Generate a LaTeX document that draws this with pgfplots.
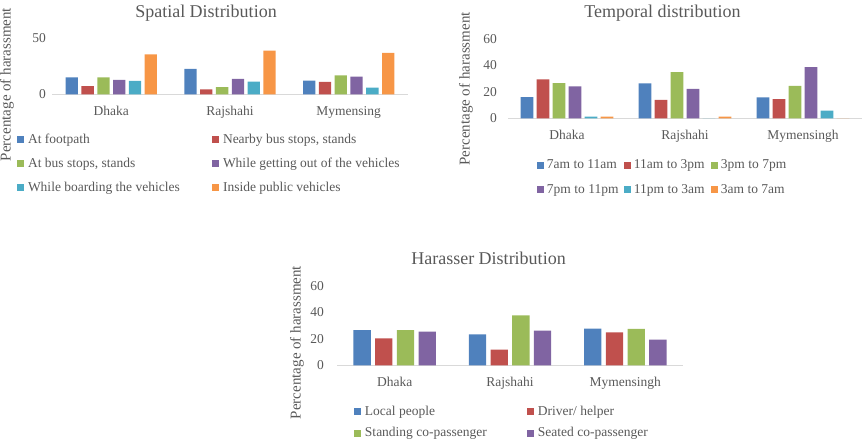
\documentclass[border=0pt]{standalone}
\usepackage{pgfplots}
\pgfplotsset{compat=1.18}
\usepackage{fontspec}
\setmainfont{Liberation Serif}
\definecolor{cblue}{HTML}{4F81BD}
\definecolor{cred}{HTML}{C0504D}
\definecolor{cgreen}{HTML}{9BBB59}
\definecolor{cpurple}{HTML}{8064A2}
\definecolor{ccyan}{HTML}{4BACC6}
\definecolor{corange}{HTML}{F79646}
\definecolor{tgrey}{HTML}{595959}
\definecolor{lgrey}{HTML}{D9D9D9}
\pgfplotsset{
  /pgfplots/ybar legend/.style={/pgfplots/legend image code/.code={\fill[##1,draw=none] (0pt,-3.5pt) rectangle (7pt,3.5pt);}},
  myax/.style={scale only axis, ymin=0, xmin=-0.5, xmax=2.5, xtick={0,1,2},
    enlarge x limits=false, enlarge y limits=false,
    axis x line*=bottom, axis y line*=left,
    x axis line style={draw=lgrey, line width=0.8pt},
    y axis line style={draw=none},
    major tick length=0pt, tick style={draw=none},
    /pgf/number format/assume math mode=true,
    ticklabel style={font=\fontsize{13.5}{16}\selectfont, text=tgrey},
    xticklabel style={anchor=base, yshift=-21pt},
    ylabel={Percentage of harassment},
    ylabel style={font=\fontsize{15}{18}\selectfont, text=tgrey, anchor=center},
    title style={font=\fontsize{18}{21}\selectfont, text=tgrey, anchor=base, yshift=-6pt},
    legend cell align=left, clip=false}
}
\begin{document}
\begin{tikzpicture}
\useasboundingbox (0pt,0pt) rectangle (865pt,-443pt);
% Spatial
\begin{axis}[myax, at={(52pt,-94.3pt)}, anchor=south west,
  width=356pt, height=56pt, ymax=50, ytick={0,50},
  ybar=3.5pt, bar width=12.3pt,
  xticklabels={Dhaka,Rajshahi,Mymensing},
  yticklabel style={anchor=east, inner sep=0pt, xshift=-6pt},
  title={Spatial Distribution},
  title style={at={(axis description cs:0.4326,1.3625)}},
  ylabel style={at={(axis description cs:-0.1264,0.175)}},
  legend columns=2,
  legend style={at={(-0.0983,-0.70)}, anchor=north west, draw=none, fill=none,
    inner sep=0pt, outer sep=0pt, row sep=11pt,
    nodes={inner sep=0pt, text height=10pt, text depth=3pt, font=\fontsize{13.5}{16}\selectfont, text=tgrey},
    /tikz/every odd column/.style={column sep=4pt},
    /tikz/every even column/.style={column sep=0pt}}]
\addplot[fill=cblue, draw=none] coordinates {(0,15.2) (1,22.6) (2,12.2)};
\addlegendentry{\makebox[184pt][l]{At footpath}}
\addplot[fill=cred, draw=none] coordinates {(0,7.4) (1,4.5) (2,11.0)};
\addlegendentry{Nearby bus stops, stands}
\addplot[fill=cgreen, draw=none] coordinates {(0,15.2) (1,6.5) (2,17.0)};
\addlegendentry{\makebox[184pt][l]{At bus stops, stands}}
\addplot[fill=cpurple, draw=none] coordinates {(0,12.8) (1,13.7) (2,15.8)};
\addlegendentry{While getting out of the vehicles}
\addplot[fill=ccyan, draw=none] coordinates {(0,11.9) (1,11.3) (2,6.0)};
\addlegendentry{\makebox[184pt][l]{While boarding the vehicles}}
\addplot[fill=corange, draw=none] coordinates {(0,35.7) (1,39.0) (2,36.9)};
\addlegendentry{Inside public vehicles}
\end{axis}
% Temporal
\begin{axis}[myax, at={(508pt,-118.3pt)}, anchor=south west,
  width=354pt, height=79.3pt, ymax=60, ytick={0,20,40,60},
  ybar=3.3pt, bar width=12.7pt,
  xticklabels={Dhaka,Rajshahi,Mymensingh},
  yticklabel style={anchor=east, inner sep=0pt, xshift=-11pt},
  title={Temporal distribution},
  title style={at={(axis description cs:0.4364,1.277)}},
  ylabel style={at={(axis description cs:-0.1186,0.37)}},
  legend columns=3,
  legend style={at={(0.0819,-0.51)}, anchor=north west, draw=none, fill=none,
    inner sep=0pt, outer sep=0pt, row sep=11.7pt,
    nodes={inner sep=0pt, text height=10pt, text depth=3pt, font=\fontsize{13.5}{16}\selectfont, text=tgrey},
    /tikz/every odd column/.style={column sep=3pt},
    /tikz/every even column/.style={column sep=0pt}}]
\addplot[fill=cblue, draw=none] coordinates {(0,16.1) (1,26.5) (2,15.9)};
\addlegendentry{\makebox[77pt][l]{7am to 11am}}
\addplot[fill=cred, draw=none] coordinates {(0,29.5) (1,13.9) (2,14.6)};
\addlegendentry{\makebox[77pt][l]{11am to 3pm}}
\addplot[fill=cgreen, draw=none] coordinates {(0,26.7) (1,35.0) (2,24.5)};
\addlegendentry{3pm to 7pm}
\addplot[fill=cpurple, draw=none] coordinates {(0,24.2) (1,22.2) (2,38.8)};
\addlegendentry{\makebox[77pt][l]{7pm to 11pm}}
\addplot[fill=ccyan, draw=none] coordinates {(0,1.3) (1,0) (2,5.8)};
\addlegendentry{\makebox[77pt][l]{11pm to 3am}}
\addplot[fill=corange, draw=none] coordinates {(0,1.3) (1,1.3) (2,0)};
\addlegendentry{3am to 7am}
\end{axis}
% Harasser
\begin{axis}[myax, at={(337pt,-365.3pt)}, anchor=south west,
  width=346pt, height=79.3pt, ymax=60, ytick={0,20,40,60},
  ybar=4.4pt, bar width=17.3pt,
  xticklabels={Dhaka,Rajshahi,Mymensingh},
  yticklabel style={anchor=east, inner sep=0pt, xshift=-13pt},
  title={Harasser Distribution},
  title style={at={(axis description cs:0.4379,1.265)}},
  ylabel style={at={(axis description cs:-0.1156,0.2875)}},
  legend columns=2,
  legend style={at={(0.0491,-0.503)}, anchor=north west, draw=none, fill=none,
    inner sep=0pt, outer sep=0pt, row sep=8.6pt,
    nodes={inner sep=0pt, text height=10pt, text depth=3pt, font=\fontsize{13.5}{16}\selectfont, text=tgrey},
    /tikz/every odd column/.style={column sep=4pt},
    /tikz/every even column/.style={column sep=0pt}}]
\addplot[fill=cblue, draw=none] coordinates {(0,26.7) (1,23.4) (2,27.7)};
\addlegendentry{\makebox[162pt][l]{Local people}}
\addplot[fill=cred, draw=none] coordinates {(0,20.4) (1,11.8) (2,25.0)};
\addlegendentry{Driver/ helper}
\addplot[fill=cgreen, draw=none] coordinates {(0,26.7) (1,37.8) (2,27.5)};
\addlegendentry{\makebox[162pt][l]{Standing co-passenger}}
\addplot[fill=cpurple, draw=none] coordinates {(0,25.5) (1,26.2) (2,19.4)};
\addlegendentry{Seated co-passenger}
\end{axis}
\end{tikzpicture}
\end{document}
